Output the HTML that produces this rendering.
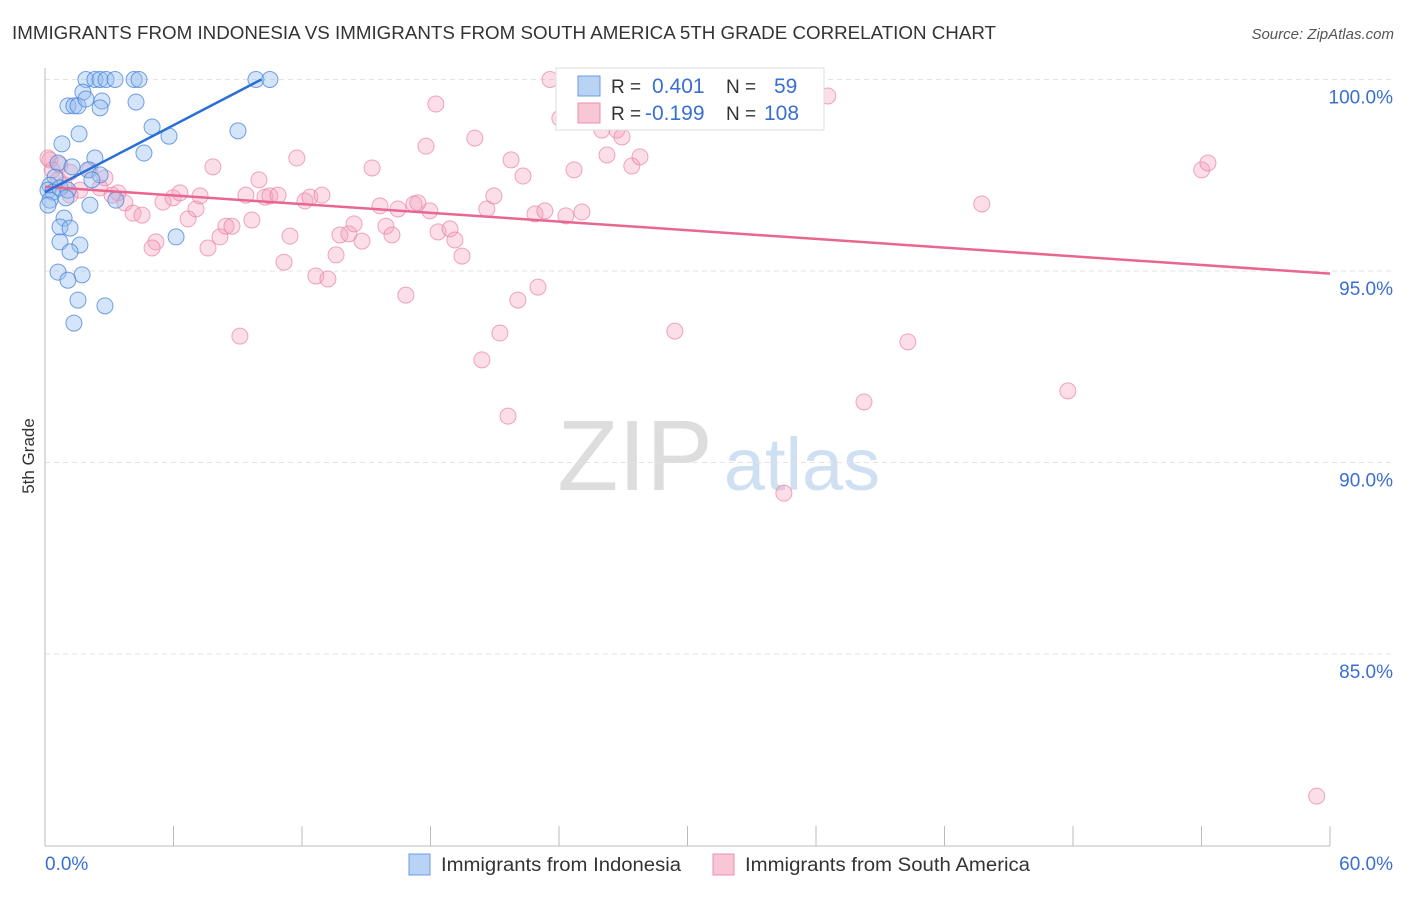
<!DOCTYPE html>
<html><head><meta charset="utf-8"><style>
body{margin:0;background:#fff;font-family:"Liberation Sans",sans-serif;}
svg text{font-family:"Liberation Sans",sans-serif;}
</style></head><body>
<svg id="c" width="1406" height="892">
<text x="12" y="39" font-size="18.5" fill="#333" textLength="984" lengthAdjust="spacingAndGlyphs">IMMIGRANTS FROM INDONESIA VS IMMIGRANTS FROM SOUTH AMERICA 5TH GRADE CORRELATION CHART</text>
<text x="1394" y="39" font-size="15" fill="#555" font-style="italic" text-anchor="end">Source: ZipAtlas.com</text>
<text x="34" y="456" font-size="17" fill="#333" transform="rotate(-90 34 456)" text-anchor="middle">5th Grade</text>
<g><text x="635" y="490" font-size="100" fill="#ddd" font-family="Liberation Serif" text-anchor="middle">ZIP</text><text x="802" y="490" font-size="74" fill="#cfe0f3" text-anchor="middle">atlas</text></g>
<g id="grid"></g><g id="pts"></g><g id="trend"></g>
<g>
<rect x="556" y="68" width="268" height="62" fill="#fff" stroke="#ddd"/>
<rect x="578" y="76" width="22" height="20" fill="#b9d3f5" stroke="#6a9be0"/>
<rect x="578" y="103" width="22" height="20" fill="#f9c6d6" stroke="#ec8fae"/>
<text x="611" y="93" font-size="19" fill="#333">R =</text><text x="652" y="93" font-size="21" fill="#3a6fd0">0.401</text>
<text x="726" y="93" font-size="19" fill="#333">N =</text><text x="774" y="93" font-size="21" fill="#3a6fd0">59</text>
<text x="611" y="120" font-size="19" fill="#333">R =</text><text x="645" y="120" font-size="21" fill="#3a6fd0">-0.199</text>
<text x="726" y="120" font-size="19" fill="#333">N =</text><text x="764" y="120" font-size="21" fill="#3a6fd0">108</text>
</g>
<g>
<rect x="409" y="854" width="21" height="21" fill="#b9d3f5" stroke="#6a9be0"/>
<text x="441" y="871" font-size="19" fill="#333" textLength="240" lengthAdjust="spacingAndGlyphs">Immigrants from Indonesia</text>
<rect x="713" y="854" width="21" height="21" fill="#f9c6d6" stroke="#ec8fae"/>
<text x="745" y="871" font-size="19" fill="#333" textLength="285" lengthAdjust="spacingAndGlyphs">Immigrants from South America</text>
</g>
</svg>
<script>
const yTicks=[100,95,90,85];
const yTickLabels=["100.0%","95.0%","90.0%","85.0%"];
const xEndLabels=["0.0%","60.0%"];
const blueX=[1.91,2.33,2.57,2.85,3.27,4.16,4.39,9.85,10.5,1.77,1.07,1.35,1.54,2.66,1.91,4.25,2.57,5.0,9.01,1.59,5.79,0.79,4.62,2.33,0.61,1.26,2.01,2.57,0.47,0.23,0.14,0.37,0.70,1.07,2.19,0.23,0.14,0.98,2.10,3.31,0.89,0.70,1.17,6.12,0.70,1.63,1.17,0.61,1.73,1.07,1.54,2.80,1.35];
const blueY=[100,100,100,100,100,100,100,100,100,99.67,99.31,99.31,99.31,99.44,99.49,99.41,99.26,98.76,98.66,98.58,98.52,98.32,98.08,97.95,97.82,97.72,97.64,97.51,97.45,97.24,97.11,97.06,97.17,97.11,97.38,96.85,96.72,96.91,96.72,96.85,96.38,96.15,96.12,95.89,95.76,95.68,95.50,94.97,94.90,94.76,94.24,94.09,93.64];
const pinkX=[.23,.70,1.17,2.10,2.80,.89,1.63,2.57,3.41,3.13,3.73,1.17,4.11,4.53,5.18,5.0,5.51,5.98,6.30,6.68,7.05,7.24,7.84,8.17,7.61,8.45,8.73,9.10,9.38,9.66,9.99,10.27,10.5,10.88,11.16,11.44,11.76,12.14,12.37,12.93,12.65,13.21,13.59,13.77,14.19,14.43,14.80,15.27,15.64,15.92,16.20,16.48,16.85,17.23,17.41,17.79,17.97,18.25,18.35,18.91,19.14,19.47,20.07,20.40,20.63,20.96,21.24,21.62,21.76,22.08,22.32,22.88,23.02,23.34,23.58,24.04,24.32,24.70,25.07,25.44,26.0,26.24,26.70,26.94,27.40,27.78,29.41,32.21,32.54,33.85,34.50,35.29,36.55,38.24,40.29,43.74,47.76,54.01,54.30,59.38,.61,.33,.14];
const pinkY=[97.90,97.77,97.58,97.64,97.43,97.25,97.11,97.17,97.04,96.98,96.78,96.98,96.51,96.46,95.76,95.60,96.80,96.91,97.04,96.36,96.62,96.96,97.72,95.89,95.60,96.17,96.17,93.30,96.98,96.33,97.38,96.93,96.96,96.98,95.23,95.91,97.95,96.83,96.93,96.98,94.87,94.79,95.42,95.94,95.97,96.23,95.78,97.69,96.70,96.17,95.94,96.62,94.37,96.75,96.78,98.26,96.57,99.36,96.02,96.10,95.81,95.39,98.47,92.68,96.62,96.96,93.38,91.21,97.90,94.24,97.48,96.49,94.58,96.57,100,98.99,96.44,97.64,96.54,99.13,98.68,98.03,98.68,98.50,97.74,97.98,93.43,99.83,99.31,99.15,89.20,100,99.57,91.58,93.15,96.75,91.87,97.64,97.82,81.29,97.38,97.64,97.95];
const blueTrendX=[0,10.1];const blueTrendY=[97.06,100];
const pinkTrendX=[0,60];const pinkTrendY=[97.2,94.93];

const NS="http://www.w3.org/2000/svg";
const sx=v=>45+v/60*1285;
const sy=v=>79.5+(100-v)*38.3;
function mk(t,a,p){const e=document.createElementNS(NS,t);for(const k in a)e.setAttribute(k,a[k]);p.appendChild(e);return e;}
const grid=document.getElementById('grid');
yTicks.forEach((t,i)=>{
 const l=mk('line',{x1:45,x2:1394,y1:sy(t),y2:sy(t),stroke:'#e3e3e3','stroke-dasharray':'5,4'},grid);
 
 
 const tx=mk('text',{x:1393,y:sy(t)+24,'font-size':19,fill:'#3a6fd0','text-anchor':'end'},grid);
 tx.textContent=yTickLabels[i];
 
 
});
const ax=mk('line',{x1:45,x2:45,y1:68,y2:846,stroke:'#bbb'},grid);


const bx=mk('line',{x1:45,x2:1330,y1:846,y2:846,stroke:'#bbb'},grid);


for(let i=0;i<=10;i++){
 const t=mk('line',{x1:sx(i*6),x2:sx(i*6),y1:826,y2:846,stroke:'#bbb'},grid);
 
 
}
[[0,'start',45],[60,'end',1393]].forEach((d,i)=>{
 const t=mk('text',{x:d[2],y:870,'font-size':19,fill:'#3a6fd0','text-anchor':d[1]},grid);
 t.textContent=xEndLabels[i];
 
 
});
const pts=document.getElementById('pts');
pinkX.forEach((x,i)=>{
 const c=mk('circle',{cx:sx(x),cy:sy(pinkY[i]),r:8,fill:'rgba(244,160,188,0.35)',stroke:'rgba(232,130,165,0.7)','stroke-width':1},pts);
 
 
});
blueX.forEach((x,i)=>{
 const c=mk('circle',{cx:sx(x),cy:sy(blueY[i]),r:8,fill:'rgba(150,190,240,0.4)',stroke:'rgba(70,130,215,0.75)','stroke-width':1},pts);
 
 
});
const tr=document.getElementById('trend');
const pl=mk('line',{x1:sx(pinkTrendX[0]),y1:sy(pinkTrendY[0]),x2:sx(pinkTrendX[1]),y2:sy(pinkTrendY[1]),stroke:'#e9668f','stroke-width':2.5},tr);


const bl=mk('line',{x1:sx(blueTrendX[0]),y1:sy(blueTrendY[0]),x2:sx(blueTrendX[1]),y2:sy(blueTrendY[1]),stroke:'#2a6fd6','stroke-width':2.5},tr);


</script>
</body></html>
